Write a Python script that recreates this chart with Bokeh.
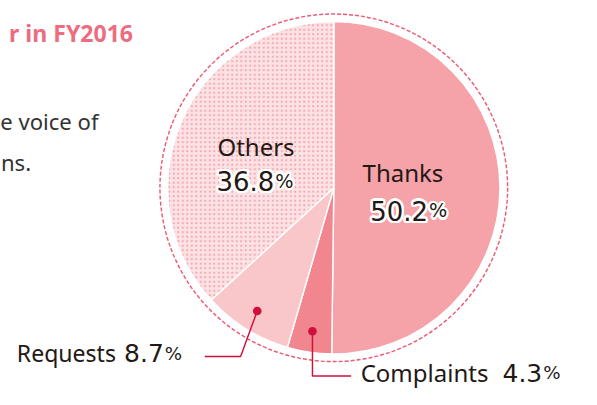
import math
from bokeh.plotting import figure
from bokeh.models import Range1d
from bokeh.core.properties import value
from bokeh.embed import file_html
from bokeh.resources import INLINE

# ---- data ----
categories = ["Thanks", "Complaints", "Requests", "Others"]
shares = [50.2, 4.3, 8.7, 36.8]
colors = ["#F6A2A9", "#F1868F", "#F9C6CA", "#FCE2E4"]
title_text = "r in FY2016"
body_lines = ["e voice of", "ns."]

# ---- layout (reference pixel coords; y grows downward) ----
W, H = 581, 389
S = H / 405.0            # uniform scale so the 597x405 design fits
CX, CY, R = 347, 195, 173
R_DASH = 181
R_DOT = 151
TEXT_DY = -10            # baseline correction for rendered text
WORD_FONT = value("Noto Sans")
NUM_FONT = value("DejaVu Sans")
DARK = "#231815"
CALLOUT = "#D0103A"


def Y(v):
    return -v


p = figure(width=W, height=H, output_backend="svg", toolbar_location=None,
           x_range=Range1d(0, W / S), y_range=Range1d(-H / S, 0),
           min_border=0, background_fill_color="white", border_fill_color="white")
p.axis.visible = False
p.grid.visible = False
p.outline_line_color = None

# ---- wedges ----
total = sum(shares)
cum = 0.0
starts, ends, mids = [], [], []
for s in shares:
    a0 = math.pi / 2 - 2 * math.pi * cum / total
    cum += s
    a1 = math.pi / 2 - 2 * math.pi * cum / total
    starts.append(a0)
    ends.append(a1)
    mids.append((a0 + a1) / 2)

for i, cat in enumerate(categories):
    kw = {}
    if cat == "Others":
        kw = dict(hatch_pattern="dot", hatch_color="#F5A8B0", hatch_scale=4.5, hatch_weight=3.5)
    p.wedge(x=[CX], y=[Y(CY)], radius=R, start_angle=[starts[i]], end_angle=[ends[i]],
            direction="clock", fill_color=colors[i], line_color="white", line_width=1.5 * S, **kw)

# dashed outer circle
p.circle(x=[CX], y=[Y(CY)], radius=R_DASH, fill_color=None, line_color="#EC5B73",
         line_width=1.5 * S, line_dash="4 2")

# ---- callouts ----
idx_c = categories.index("Complaints")
idx_r = categories.index("Requests")
dot_c = (CX + R_DOT * math.cos(mids[idx_c]), Y(CY) + R_DOT * math.sin(mids[idx_c]))
dot_r = (CX + R_DOT * math.cos(mids[idx_r]), Y(CY) + R_DOT * math.sin(mids[idx_r]))

p.line(x=[dot_r[0], 250, 212.7], y=[dot_r[1], Y(370.7), Y(370.7)], line_color=CALLOUT, line_width=1.5 * S)
p.line(x=[dot_c[0], dot_c[0], 365], y=[dot_c[1], Y(391), Y(391)], line_color=CALLOUT, line_width=1.5 * S)
p.scatter(x=[dot_r[0], dot_c[0]], y=[dot_r[1], dot_c[1]], size=9 * S, marker="circle",
          fill_color=CALLOUT, line_color=None)


# ---- text helpers ----
def txt(x, y, s, size, font, color=DARK, align="left", style="normal", halo=False):
    fs = f"{size * S:.2f}px"
    yy = Y(y + TEXT_DY)
    if halo:
        for k in range(16):
            ang = 2 * math.pi * k / 16
            p.text(x=[x], y=[yy], text=[s], text_font=font, text_font_size=fs,
                   text_color="white", text_align=align, text_baseline="alphabetic",
                   text_font_style=style,
                   x_offset=2.5 * S * math.cos(ang), y_offset=2.5 * S * math.sin(ang))
    p.text(x=[x], y=[yy], text=[s], text_font=font, text_font_size=fs,
           text_color=color, text_align=align, text_baseline="alphabetic", text_font_style=style)


def pct(s):
    return f"{s:.1f}"


# center labels
txt(266, 162, categories[3], 25, WORD_FONT, align="center")
txt(285, 198, pct(shares[3]), 27, NUM_FONT, align="right", halo=True)
txt(286, 198, "%", 20, NUM_FONT, halo=True)

txt(419, 189, categories[0], 25, WORD_FONT, align="center")
txt(445, 229, pct(shares[0]), 27, NUM_FONT, align="right", halo=True)
txt(446, 229, "%", 20, NUM_FONT, halo=True)

# bottom labels
txt(17, 377, categories[2], 24, WORD_FONT)
txt(170, 377, pct(shares[2]), 26, NUM_FONT, align="right")
txt(171, 377, "%", 19, NUM_FONT)

txt(375, 397.5, categories[1], 25, WORD_FONT)
txt(564, 397.5, pct(shares[1]), 26, NUM_FONT, align="right")
txt(565, 397.5, "%", 19, NUM_FONT)

# cropped surrounding page text
txt(138, 44, title_text, 24, WORD_FONT, color="#EE6C7F", align="right", style="bold")
txt(102, 135, body_lines[0], 23, WORD_FONT, color="#333333", align="right")
txt(0.5, 178, body_lines[1], 23, WORD_FONT, color="#333333", align="left")

open("out.html", "w").write(file_html(p, INLINE))
